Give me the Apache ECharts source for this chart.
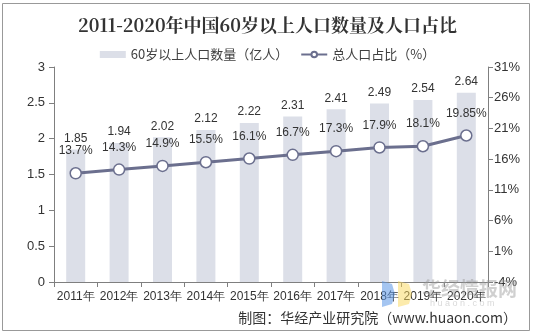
<!DOCTYPE html>
<html><head><meta charset="utf-8">
<script src="https://cdn.jsdelivr.net/npm/echarts@6/dist/echarts.min.js"></script>
<style>html,body{margin:0;padding:0;background:#fff}#c{width:535px;height:336px}</style>
</head><body><div id="c"></div>
<script>
const categories = ['2011年','2012年','2013年','2014年','2015年','2016年','2017年','2018年','2019年','2020年'];
const population = [1.85,1.94,2.02,2.12,2.22,2.31,2.41,2.49,2.54,2.64];
const share = [13.7,14.3,14.9,15.5,16.1,16.7,17.3,17.9,18.1,19.85];
const shareLabels = ['13.7%','14.3%','14.9%','15.5%','16.1%','16.7%','17.3%','17.9%','18.1%','19.85%'];

const chart = echarts.init(document.getElementById('c'), null, {renderer:'canvas'});
const font = 'Liberation Sans, Arial, sans-serif';
chart.setOption({
  animation:false,
  backgroundColor:'#fff',
  title:{text:'2011-2020年中国60岁以上人口数量及人口占比',left:'center',top:11,
    textStyle:{fontFamily:'Noto Serif CJK SC, Noto Sans CJK SC, serif',fontSize:18,fontWeight:'bold',color:'#333'}},
  legend:{top:43,left:'center',itemGap:12,itemWidth:26,itemHeight:7,
    textStyle:{fontFamily:'Noto Sans CJK SC',fontSize:13,color:'#404040'},
    data:[{name:'60岁以上人口数量（亿人）',icon:'rect'},{name:'总人口占比（%）'}]},
  grid:{left:54,right:47,top:67,bottom:54},
  xAxis:{type:'category',data:categories,
    axisLine:{lineStyle:{color:'#7f7f7f'}},
    axisTick:{show:true,alignWithLabel:false,lineStyle:{color:'#7f7f7f'}},
    axisLabel:{fontFamily:font,fontSize:12,color:'#333',margin:9,interval:0}},
  yAxis:[
    {type:'value',min:0,max:3,interval:0.5,
      axisLine:{show:true,lineStyle:{color:'#7f7f7f'}},
      axisTick:{show:true,lineStyle:{color:'#7f7f7f'}},
      splitLine:{show:false},
      axisLabel:{fontFamily:font,fontSize:13,color:'#333',margin:9}},
    {type:'value',min:-4,max:31,interval:5,position:'right',
      axisLine:{show:true,lineStyle:{color:'#7f7f7f'}},
      axisTick:{show:true,lineStyle:{color:'#7f7f7f'}},
      splitLine:{show:false},
      axisLabel:{fontFamily:font,fontSize:13,color:'#333',margin:6,formatter:v=>v+'%'}}
  ],
  series:[
    {name:'60岁以上人口数量（亿人）',type:'bar',data:population,barWidth:19,
      itemStyle:{color:'#dcdfe8'},
      label:{show:true,position:'top',distance:5,fontFamily:font,fontSize:12,color:'#333'}},
    {name:'总人口占比（%）',type:'line',yAxisIndex:1,data:share,
      symbol:'circle',symbolSize:11,
      lineStyle:{color:'#6b6f8e',width:3},
      itemStyle:{color:'#fff',borderColor:'#6b6f8e',borderWidth:1.5},
      label:{show:true,position:'top',distance:10,fontFamily:font,fontSize:12,color:'#333',
        formatter:p=>shareLabels[p.dataIndex]}}
  ],
  graphic:[
    {type:'rect',shape:{x:2.5,y:3.5,width:527,height:327},style:{fill:'none',stroke:'#999',lineWidth:1},silent:true},
    {type:'polygon',shape:{points:[[382,281],[392,284],[395,294],[392,304],[382,307]]},style:{fill:'rgba(90,150,230,0.55)'},silent:true,z:100},
    {type:'polygon',shape:{points:[[398,281],[409,284],[412,294],[409,304],[398,307]]},style:{fill:'rgba(250,215,90,0.5)'},silent:true,z:100},
    {type:'text',left:422,top:279,style:{text:'华经情报网',font:'bold 19px "Noto Sans CJK SC"',fill:'rgba(150,150,150,0.45)'},silent:true,z:100},
    {type:'text',left:430,top:299,style:{text:'h u a o n . c o m',font:'9px "Liberation Sans"',fill:'rgba(170,170,170,0.45)'},silent:true,z:100},
    {type:'text',right:18,top:311,style:{text:'制图：华经产业研究院（www.huaon.com）',
      font:'14px "Noto Sans CJK SC"',fill:'#333'}}
  ]
});
</script></body></html>
